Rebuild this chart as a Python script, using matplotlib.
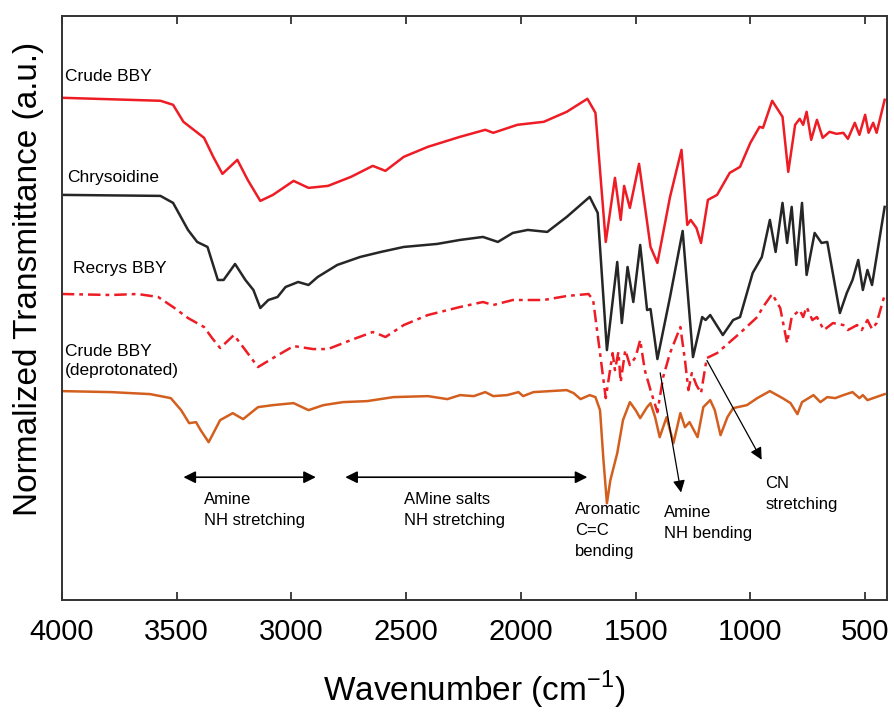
import numpy as np
import matplotlib
matplotlib.use("Agg")
import matplotlib.pyplot as plt

plt.rcParams['font.family'] = ['Liberation Sans', 'DejaVu Sans']

# Crude BBY (red, solid)
crude_wn = [4000, 3570, 3515, 3470, 3380, 3340, 3300, 3235, 3190, 3135, 3080, 2990, 2925, 2840,
            2740, 2645, 2590, 2510, 2405, 2265, 2155, 2120, 2015, 1900, 1800, 1710, 1675, 1630,
            1590, 1565, 1550, 1525, 1485, 1435, 1405, 1350, 1300, 1275, 1260, 1235, 1215, 1185,
            1145, 1090, 1045, 1000, 960, 945, 905, 860, 835, 805, 785, 770, 755, 735, 710, 685,
            655, 625, 595, 575, 545, 525, 500, 485, 465, 450, 415]
crude_t = [5.02, 4.99, 4.95, 4.78, 4.62, 4.43, 4.26, 4.40, 4.20, 3.99, 4.05, 4.19, 4.12, 4.14,
           4.23, 4.34, 4.29, 4.43, 4.53, 4.63, 4.70, 4.67, 4.75, 4.78, 4.88, 5.01, 4.87, 3.58,
           4.22, 3.80, 4.14, 3.92, 4.36, 3.53, 3.37, 4.03, 4.50, 3.75, 3.80, 3.72, 3.57, 4.00,
           4.05, 4.27, 4.33, 4.57, 4.73, 4.72, 4.99, 4.83, 4.28, 4.75, 4.81, 4.75, 4.88, 4.60, 4.80, 4.62,
           4.68, 4.66, 4.67, 4.61, 4.77, 4.65, 4.85, 4.67, 4.77, 4.67, 5.00]

# Chrysoidine (black)
chry_wn = [4000, 3570, 3515, 3450, 3410, 3365, 3320, 3295, 3245, 3200, 3165, 3135, 3100, 3060,
           3025, 2970, 2925, 2885, 2800, 2700, 2610, 2510, 2365, 2265, 2165, 2100, 2035, 1970,
           1885, 1800, 1700, 1665, 1625, 1580, 1560, 1535, 1510, 1480, 1450, 1435, 1405, 1350,
           1295, 1250, 1210, 1195, 1175, 1120, 1075, 1045, 990, 950, 915, 890, 860, 840, 820,
           800, 775, 755, 720, 690, 665, 610, 580, 555, 530, 510, 490, 470, 415]
chry_t = [4.05, 4.04, 3.97, 3.70, 3.58, 3.53, 3.20, 3.20, 3.36, 3.20, 3.10, 2.92, 3.00, 3.03,
          3.13, 3.18, 3.15, 3.23, 3.35, 3.43, 3.48, 3.53, 3.56, 3.60, 3.63, 3.58, 3.67, 3.70,
          3.68, 3.83, 4.03, 3.87, 2.50, 3.38, 2.77, 3.33, 2.98, 3.55, 2.90, 2.91, 2.41, 3.03,
          3.69, 2.43, 2.83, 2.80, 2.85, 2.65, 2.80, 2.83, 3.27, 3.43, 3.80, 3.48, 3.97, 3.57, 3.93,
          3.35, 3.97, 3.25, 3.67, 3.57, 3.58, 2.87, 3.07, 3.20, 3.40, 3.10, 3.30, 3.15, 3.93]

# Recrys BBY (red, dash-dot)
recr_wn = [4000, 3785, 3670, 3580, 3515, 3450, 3380, 3345, 3310, 3250, 3210, 3145, 3080, 2990,
           2905, 2840, 2740, 2645, 2610, 2590, 2510, 2405, 2265, 2165, 2120, 2035, 1900, 1800,
           1705, 1685, 1655, 1630, 1600, 1590, 1575, 1565, 1545, 1525, 1500, 1480, 1460, 1435,
           1405, 1380, 1350, 1305, 1285, 1270, 1255, 1235, 1215, 1190, 1145, 1090, 1045, 970,
           945, 905, 870, 840, 820, 785, 770, 755, 730, 710, 680, 640, 595, 575, 535, 515, 490,
           470, 450, 415]
recr_t = [3.06, 3.05, 3.06, 3.03, 2.93, 2.82, 2.73, 2.62, 2.52, 2.65, 2.53, 2.33, 2.42, 2.54,
          2.51, 2.51, 2.60, 2.68, 2.65, 2.63, 2.75, 2.85, 2.93, 2.98, 2.95, 3.00, 3.00, 3.04,
          3.06, 3.00, 2.47, 2.02, 2.47, 2.30, 2.48, 2.18, 2.50, 2.35, 2.43, 2.60, 2.30, 2.10,
          1.88, 2.23, 2.47, 2.73, 2.40, 2.10, 2.27, 2.15, 2.07, 2.42, 2.47, 2.58, 2.67, 2.83,
          2.93, 3.06, 2.92, 2.57, 2.83, 2.90, 2.83, 2.93, 2.80, 2.83, 2.70, 2.77, 2.75, 2.70, 2.75, 2.70, 2.80,
          2.71, 2.77, 3.05]

# Crude BBY deprotonated (orange)
depr_wn = [4000, 3785, 3615, 3525, 3480, 3445, 3415, 3395, 3360, 3310, 3255, 3210, 3145, 3080,
           2990, 2925, 2860, 2775, 2670, 2555, 2405, 2320, 2265, 2205, 2155, 2120, 2060, 2010,
           1990, 1945, 1800, 1770, 1740, 1700, 1675, 1655, 1640, 1625, 1610, 1580, 1555, 1525,
           1500, 1480, 1450, 1435, 1415, 1395, 1365, 1335, 1305, 1285, 1265, 1230, 1205, 1175,
           1155, 1130, 1100, 1075, 1015, 970, 915, 860, 825, 795, 775, 725, 695, 665, 630, 595,
           555, 525, 510, 490, 415]
depr_t = [2.09, 2.08, 2.06, 2.02, 1.90, 1.77, 1.78, 1.70, 1.58, 1.80, 1.87, 1.81, 1.93, 1.95,
          1.97, 1.90, 1.95, 1.98, 1.99, 2.03, 2.04, 2.01, 2.05, 2.04, 2.08, 2.04, 2.05, 2.08,
          2.04, 2.08, 2.10, 2.07, 2.01, 2.05, 2.03, 1.90, 1.40, 0.97, 1.20, 1.47, 1.80, 1.98,
          1.90, 1.82, 1.93, 1.97, 1.83, 1.63, 1.83, 1.57, 1.87, 1.73, 1.78, 1.63, 1.93, 2.00,
          1.90, 1.65, 1.83, 1.92, 1.95, 2.02, 2.09, 2.02, 1.97, 1.86, 1.98, 2.05, 1.98, 2.03, 2.02, 2.05,
          2.08, 2.02, 2.05, 2.00, 2.06]

xticks = [4000, 3500, 3000, 2500, 2000, 1500, 1000, 500]

fig = plt.figure(figsize=(8.95, 7.13), dpi=100)
ax = fig.add_axes([0.069, 0.158, 0.922, 0.820])

red = '#ee1c25'
kw = dict(lw=1.8, solid_joinstyle='round', dash_joinstyle='round')
ax.plot(crude_wn, crude_t, color=red, **kw)
ax.plot(chry_wn, chry_t, color='#262626', **kw)
ax.plot(recr_wn, recr_t, color=red, linestyle=(0, (5, 2, 1.5, 2)), **kw)
ax.plot(depr_wn, depr_t, color='#d35f1f', **kw)

ax.set_xlim(4000, 405)
ax.set_ylim(0, 5.84)
ax.set_xticks(xticks)
ax.set_yticks([])
ax.tick_params(axis='x', direction='in', length=6, width=1.3, top=True,
               labelsize=21, pad=13, color='#333333')
for s in ax.spines.values():
    s.set_linewidth(1.4)
    s.set_color('#333333')

ax.set_xlabel(r'Wavenumber (cm$^{\mathregular{-1}}$)', fontsize=24, labelpad=16)
ax.set_ylabel('Normalized Transmittance (a.u.)', fontsize=24)
ax.yaxis.set_label_coords(-0.022, 0.55)

# curve names
fs = 12.5
ax.text(3985, 5.23, 'Crude BBY', fontsize=fs, va='center', ha='left')
ax.text(3975, 4.22, 'Chrysoidine', fontsize=fs, va='center', ha='left')
ax.text(3950, 3.31, 'Recrys BBY', fontsize=fs, va='center', ha='left')
ax.text(3985, 2.39, 'Crude BBY\n(deprotonated)', fontsize=fs, va='center', ha='left',
        linespacing=1.3)

# band annotations
afs = 12
ax.annotate('', xy=(2881, 1.23), xytext=(3482, 1.23),
            arrowprops=dict(arrowstyle='<|-|>', color='black', lw=1.2, mutation_scale=18))
ax.annotate('', xy=(1698, 1.23), xytext=(2777, 1.23),
            arrowprops=dict(arrowstyle='<|-|>', color='black', lw=1.2, mutation_scale=18))
ax.annotate('', xy=(1300, 1.05), xytext=(1395, 2.30),
            arrowprops=dict(arrowstyle='-|>', color='black', lw=0.9, mutation_scale=18))
ax.annotate('', xy=(945, 1.38), xytext=(1195, 2.42),
            arrowprops=dict(arrowstyle='-|>', color='black', lw=0.9, mutation_scale=18))

ax.text(3380, 1.08, 'Amine\nNH stretching', fontsize=afs, va='top', ha='left', linespacing=1.5)
ax.text(2510, 1.08, 'AMine salts\nNH stretching', fontsize=afs, va='top', ha='left', linespacing=1.5)
ax.text(1765, 0.98, 'Aromatic\nC=C\nbending', fontsize=afs, va='top', ha='left', linespacing=1.5)
ax.text(1375, 0.95, 'Amine\nNH bending', fontsize=afs, va='top', ha='left', linespacing=1.5)
ax.text(935, 1.24, 'CN\nstretching', fontsize=afs, va='top', ha='left', linespacing=1.5)

fig.savefig('out.png', dpi=100)
